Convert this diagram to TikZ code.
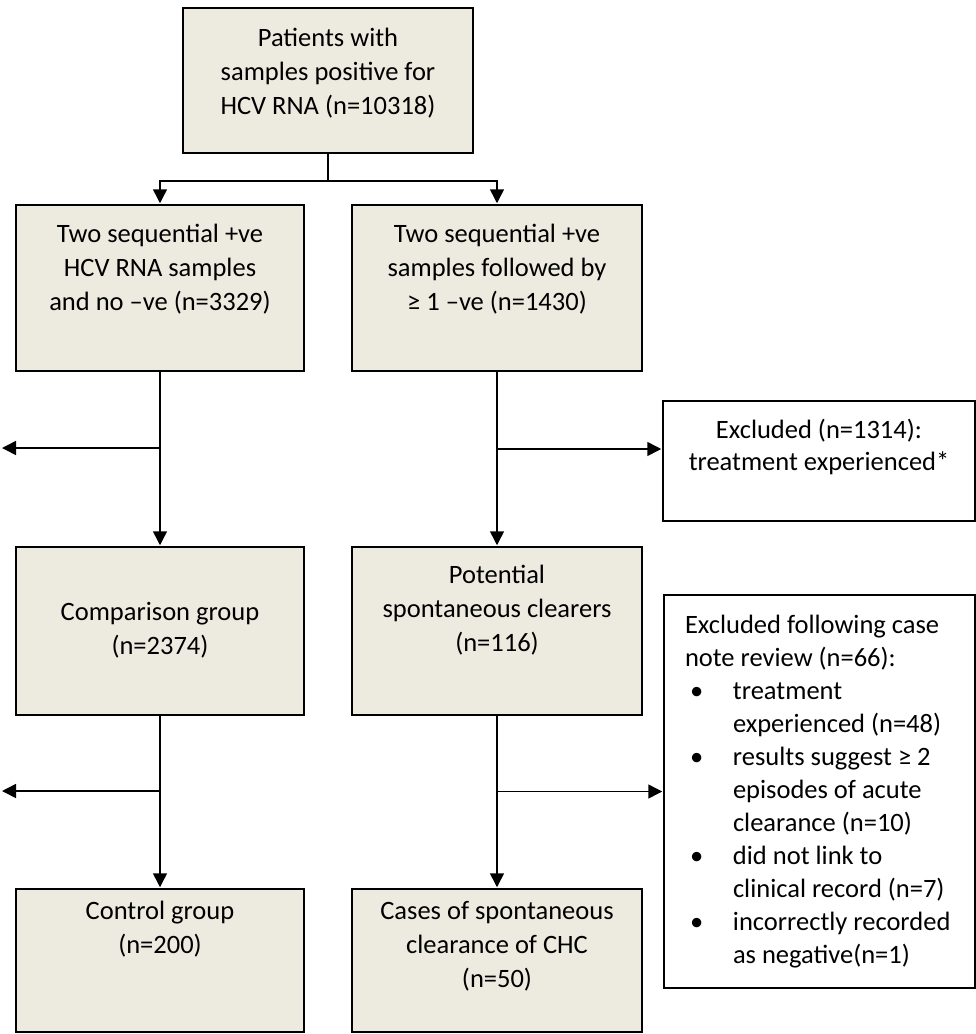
\documentclass[tikz,border=0pt]{standalone}
\usepackage{fontspec}
\setmainfont{Carlito}
\usetikzlibrary{arrows.meta}
\definecolor{boxfill}{RGB}{237,235,224}
\newcommand{\boxtext}[4]{\parbox[c][#1][t]{#2}{\centering\rule{0pt}{#3}#4}}
\newcommand{\itm}[1]{\hangindent=48pt\hangafter=1\makebox[48pt][l]{\hspace{5pt}\textbullet}#1\par}
\begin{document}
\begin{tikzpicture}[x=1pt,y=-1pt,
  every node/.style={font=\fontsize{26.5}{34}\selectfont, inner sep=0pt},
  gbox/.style={draw, line width=1.5pt, fill=boxfill},
  wbox/.style={draw, line width=1.5pt, fill=white},
  link/.style={line width=1.5pt},
  arr/.style={line width=1.5pt, -{Triangle[length=14pt,width=14pt]}, shorten >=1pt}]
\useasboundingbox (0,0) rectangle (976,1034);
\node[gbox] (start) at (328,80.5){\boxtext{145pt}{290pt}{38.5pt}{Patients with\\samples positive for\\HCV RNA (n=10318)}};
\node[gbox] (twoA) at (160,288){\boxtext{166pt}{288pt}{37.5pt}{Two sequential +ve\\HCV RNA samples\\and no –ve (n=3329)}};
\node[gbox] (twoB) at (497,288){\boxtext{166pt}{290pt}{37.5pt}{Two sequential +ve\\samples followed by\\≥ 1 –ve (n=1430)}};
\node[wbox] (excl1) at (819,461){\boxtext{120pt}{312pt}{37.5pt}{\baselineskip=32pt Excluded (n=1314):\\treatment experienced*}};
\node[gbox] (comp) at (160,631){\boxtext{168pt}{288pt}{73.5pt}{Comparison group\\(n=2374)}};
\node[gbox] (pot) at (497,631){\boxtext{168pt}{290pt}{36.5pt}{Potential\\spontaneous clearers\\(n=116)}};
\node[wbox] (excl2) at (819.5,791.5){\parbox[c][393pt][t]{311pt}{\baselineskip=33pt\parindent=0pt
  \leftskip=21pt\rightskip=0pt plus 1fil\rule{0pt}{38.5pt}Excluded following case\\note review (n=66):\par
  \itm{treatment\\experienced (n=48)}
  \itm{results suggest ≥ 2\\episodes of acute\\clearance (n=10)}
  \itm{did not link to\\clinical record (n=7)}
  \itm{incorrectly recorded\\as negative(n=1)}}};
\node[gbox] (ctrl) at (160,960.5){\boxtext{143pt}{288pt}{30.5pt}{Control group\\(n=200)}};
\node[gbox] (cases) at (497,960.5){\boxtext{143pt}{290pt}{30.5pt}{Cases of spontaneous\\clearance of CHC\\(n=50)}};
\draw[link] (start.south) -- ++(0,27) coordinate (fork);
\draw[arr] (fork) -| (twoA.north);
\draw[arr] (fork) -| (twoB.north);
\draw[arr] (twoA.south) -- (comp.north);
\draw[arr] (twoB.south) -- (pot.north);
\coordinate (outA) at (1,448);
\draw[arr] (twoA.south |- outA) -- (outA);
\path ([yshift=12pt]excl1.west) coordinate (inB);
\draw[arr] (twoB.south |- inB) -- (inB);
\draw[arr] (comp.south) -- (ctrl.north);
\draw[arr] (pot.south) -- (cases.north);
\coordinate (outC) at (1,791);
\draw[arr] (comp.south |- outC) -- (outC);
\draw[arr] (pot.south |- excl2.west) -- (excl2.west);
\end{tikzpicture}
\end{document}
